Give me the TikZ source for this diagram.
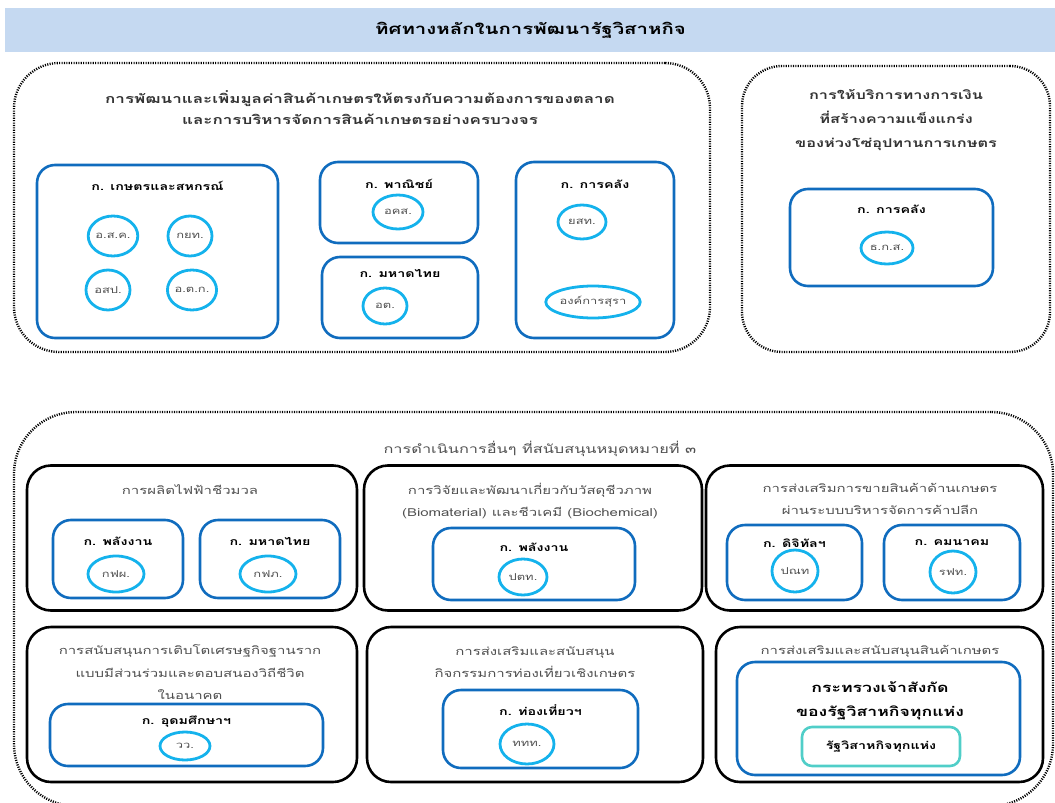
\documentclass[tikz,border=0pt]{standalone}
\usepackage{fontspec}
\setmainfont[Script=Thai,FakeStretch=1.36]{Loma}
\usepackage{tikz}
\usetikzlibrary{shapes}
\usepackage{xcolor}
\definecolor{barblue}{RGB}{197,217,241}
\definecolor{boxblue}{RGB}{16,108,190}
\definecolor{ringblue}{RGB}{20,178,236}
\definecolor{ringteal}{RGB}{80,206,200}
\definecolor{txtgrey}{RGB}{80,80,80}

\begin{document}
\begin{tikzpicture}[x=1pt,y=-1pt]
			\tikzstyle{dots} = [draw, line width=2.4pt, dash pattern=on 1.1pt off 1.3pt]
			\tikzstyle{grp} = [draw, line width=2.6pt, rounded corners=24pt, inner sep=0pt]
			\tikzstyle{min} = [draw=boxblue, line width=2.6pt, rounded corners=18pt, inner sep=0pt]
			\tikzstyle{n} = [draw=ringblue, line width=2.8pt, ellipse, inner sep=0pt, text=txtgrey, font=\fontsize{9.5}{11}\selectfont]
			\tikzstyle{head} = [align=center, text=txtgrey, font=\fontsize{11}{22.5}\selectfont]
			\tikzstyle{mt} = [font=\bfseries\fontsize{10.5}{12}\selectfont]
			\useasboundingbox (0,0) rectangle (1055,803);

			% title bar
			\node [fill=barblue, minimum width=1051, minimum height=44, inner sep=0pt, font=\bfseries\fontsize{15}{18}\selectfont] (bar) at (530.5,30) {ทิศทางหลักในการพัฒนารัฐวิสาหกิจ};

			% upper left group
			\node [dots, rounded corners=45pt, minimum width=696, minimum height=289] (gval) at (362,207.5) {};
			\node [align=center, font=\bfseries\fontsize{12.5}{21}\selectfont, text=black!80] (hval) at (360,107.5) {การพัฒนาและเพิ่มมูลค่าสินค้าเกษตรให้ตรงกับความต้องการของตลาด\\และการบริหารจัดการสินค้าเกษตรอย่างครบวงจร};

			\node [min, minimum width=241, minimum height=173] (moac) at (157.5,251.5) {};
			\node [mt] (tmoac) at (157.5,186) {ก. เกษตรและสหกรณ์};
			\node [n, minimum width=44, minimum height=40] (dpo) at (113,236) {อ.ส.ค.};
			\node [n, minimum width=44, minimum height=40] (raot) at (190,236) {กยท.};
			\node [n, minimum width=44, minimum height=40] (mwo) at (108,290) {อสป.};
			\node [n, minimum width=44, minimum height=40] (mot) at (192,290) {อ.ต.ก.};

			\node [min, minimum width=158, minimum height=81] (moc) at (399,202.5) {};
			\node [mt] (tmoc) at (399,184) {ก. พาณิชย์};
			\node [n, minimum width=50, minimum height=34] (pwo) at (398,212) {อคส.};

			\node [min, minimum width=156, minimum height=81] (moi) at (400,297.5) {};
			\node [mt] (tmoi) at (400,273) {ก. มหาดไทย};
			\node [n, minimum width=44, minimum height=36] (mkt) at (385,306) {อต.};

			\node [min, minimum width=158, minimum height=176] (mof) at (595,250) {};
			\node [mt] (tmof) at (595,184) {ก. การคลัง};
			\node [n, minimum width=48, minimum height=34] (tobacco) at (582,222) {ยสท.};
			\node [n, minimum width=92, minimum height=32] (liquor) at (593,302) {องค์การสุรา};

			% upper right group
			\node [dots, rounded corners=40pt, minimum width=308, minimum height=286] (gfin) at (896,209) {};
			\node [align=center, font=\bfseries\fontsize{12}{24}\selectfont, text=black!80] (hfin) at (896,120) {การให้บริการทางการเงิน\\ที่สร้างความแข็งแกร่ง\\ของห่วงโซ่อุปทานการเกษตร};
			\node [min, minimum width=203, minimum height=97] (mof2) at (891.5,237.5) {};
			\node [mt] (tmof2) at (891.5,209) {ก. การคลัง};
			\node [n, minimum width=52, minimum height=32] (baac) at (887,248) {ธ.ก.ส.};

			% lower group
			\node [dots, rounded corners=62pt, minimum width=1039, minimum height=394] (goth) at (533.5,609) {};
			\node [head, font=\fontsize{12}{22.5}\selectfont] (hoth) at (540,449) {การดำเนินการอื่นๆ ที่สนับสนุนหมุดหมายที่ ๓};

			\node [grp, minimum width=330, minimum height=145] (gbio) at (192,538) {};
			\node [head] (hbio) at (190,490) {การผลิตไฟฟ้าชีวมวล};
			\node [min, minimum width=130, minimum height=78] (moen) at (118,559) {};
			\node [mt] (tmoen) at (118,541) {ก. พลังงาน};
			\node [n, minimum width=56, minimum height=36] (egat) at (116,574) {กฟผ.};
			\node [min, minimum width=140, minimum height=78] (moi2) at (270,559) {};
			\node [mt] (tmoi2) at (270,541) {ก. มหาดไทย};
			\node [n, minimum width=56, minimum height=36] (pea) at (268,574) {กฟภ.};

			\node [grp, minimum width=338, minimum height=145] (gres) at (533,538) {};
			\node [head] (hres) at (530,501) {การวิจัยและพัฒนาเกี่ยวกับวัสดุชีวภาพ\\(Biomaterial) และชีวเคมี (Biochemical)};
			\node [min, minimum width=202, minimum height=72] (moen2) at (534,564) {};
			\node [mt] (tmoen2) at (534,547) {ก. พลังงาน};
			\node [n, minimum width=48, minimum height=36] (ptt) at (523,577) {ปตท.};

			\node [grp, minimum width=337, minimum height=145] (gret) at (874.5,538) {};
			\node [head] (hret) at (880,499) {การส่งเสริมการขายสินค้าด้านเกษตร\\ผ่านระบบบริหารจัดการค้าปลีก};
			\node [min, minimum width=135, minimum height=75] (mdes) at (794.5,562.5) {};
			\node [mt] (tmdes) at (794.5,543) {ก. ดิจิทัลฯ};
			\node [n, minimum width=46, minimum height=42] (thp) at (795,571) {ปณท};
			\node [min, minimum width=136, minimum height=75] (mot2) at (952,562.5) {};
			\node [mt] (tmot2) at (952,543) {ก. คมนาคม};
			\node [n, minimum width=46, minimum height=42] (srt) at (953,572) {รฟท.};

			\node [grp, minimum width=330, minimum height=155] (gloc) at (192,704.5) {};
			\node [head] (hloc) at (190,672.5) {การสนับสนุนการเติบโตเศรษฐกิจฐานราก\\แบบมีส่วนร่วมและตอบสนองวิถีชีวิต\\ในอนาคต};
			\node [min, minimum width=273, minimum height=62] (mhesi) at (186.5,735) {};
			\node [mt] (tmhesi) at (186.5,722) {ก. อุดมศึกษาฯ};
			\node [n, minimum width=50, minimum height=28] (tistr) at (185,746) {วว.};

			\node [grp, minimum width=336, minimum height=155] (gtour) at (535,704.5) {};
			\node [head] (htour) at (535,662) {การส่งเสริมและสนับสนุน\\กิจกรรมการท่องเที่ยวเชิงเกษตร};
			\node [min, minimum width=195, minimum height=78] (mots) at (540.5,729) {};
			\node [mt] (tmots) at (540.5,710) {ก. ท่องเที่ยวฯ};
			\node [n, minimum width=54, minimum height=40] (tat) at (527,744) {ททท.};

			\node [grp, minimum width=327, minimum height=155] (gall) at (879.5,704.5) {};
			\node [head] (hall) at (880,651) {การส่งเสริมและสนับสนุนสินค้าเกษตร};
			\node [min, minimum width=283, minimum height=113] (mall) at (878.5,718.5) {};
			\node [align=center, font=\bfseries\fontsize{13}{24}\selectfont] (tmall) at (880,701) {กระทรวงเจ้าสังกัด\\ของรัฐวิสาหกิจทุกแห่ง};
			\node [draw=ringteal, line width=2.6pt, rounded corners=10pt, minimum width=158, minimum height=39, font=\bfseries\fontsize{10.5}{12}\selectfont] (soe) at (881,746.5) {รัฐวิสาหกิจทุกแห่ง};

		\end{tikzpicture}
\end{document}
